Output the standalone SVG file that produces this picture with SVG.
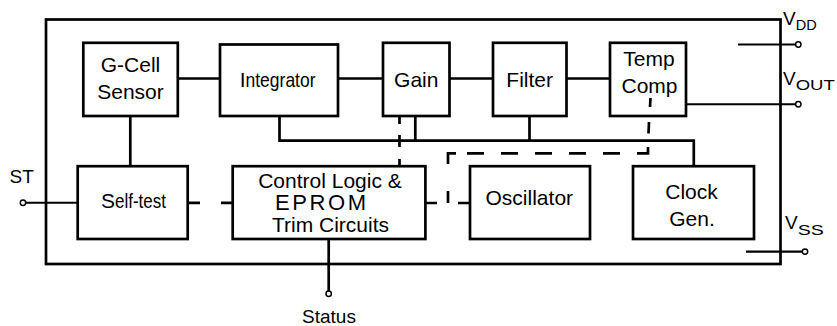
<svg xmlns="http://www.w3.org/2000/svg" width="837" height="326" viewBox="0 0 837 326">
<style>
.box{fill:none;stroke:#000;stroke-width:2.7}
.ln{fill:none;stroke:#000;stroke-width:2.7}
.pin{fill:none;stroke:#000;stroke-width:2.1}
.pad{fill:#fff;stroke:#000;stroke-width:1.5}
text{font-family:"Liberation Sans",Arial,sans-serif;fill:#000}
.t{font-size:21px;text-anchor:middle}
.s{font-size:19px}
</style>
<rect width="837" height="326" fill="#fff"/>
<g id="package"><rect class="box" x="46" y="19.5" width="734.5" height="244.5"/></g>
<g id="connectors">
<path class="ln" d="M178,78.5H220M338,78.5H383M449.5,78.5H493M566.5,78.5H610"/>
<path class="ln" d="M130.3,116V166"/>
<path class="ln" d="M279.5,116V140.7H693.8V166M415.3,116V140.7M529.5,116V140.7"/>
<path class="ln" d="M188,202.8H200M221,202.8H232.5"/>
<path class="ln" d="M399.5,116V124M399.5,135V147M399.5,159V166"/>
<path class="ln" d="M650.5,98L650,107M649,122L648.5,133.5M648,147V153.3H637M620,153.3H603M586,153.3H569M552,153.3H535M518,153.3H501M484,153.3H467M456,153.3H448V164M448,191V203M425.5,203H437M458,203H470"/>
<path class="ln" d="M328.7,239V291"/>
<path class="pin" d="M686,104.2H795.6M738,44.5H795.6M746,251.6H802.3M25.7,202.7H77.5"/>
</g>
<g id="pins">
<circle class="pad" cx="798.3" cy="44.5" r="2.7"/>
<circle class="pad" cx="798.3" cy="104.2" r="2.7"/>
<circle class="pad" cx="805" cy="251.6" r="2.7"/>
<circle class="pad" cx="23" cy="202.7" r="2.7"/>
<circle class="pad" cx="328.7" cy="293.7" r="2.7"/>
<text class="s" x="783" y="25">V<tspan font-size="14" dy="5" textLength="21" lengthAdjust="spacingAndGlyphs">DD</tspan></text>
<text class="s" x="783" y="85">V<tspan font-size="14" dy="5" textLength="39" lengthAdjust="spacingAndGlyphs">OUT</tspan></text>
<text class="s" x="785" y="229.3">V<tspan font-size="14" dy="5.5" textLength="26" lengthAdjust="spacingAndGlyphs">SS</tspan></text>
<text class="s" x="21.7" y="182.7" text-anchor="middle">ST</text>
<text class="s" x="329" y="323" text-anchor="middle">Status</text>
</g>
<g id="gcell"><rect class="box" x="83.3" y="42.8" width="94.5" height="73.2"/><text class="t" x="130.5" y="72">G-Cell</text><text class="t" x="130.5" y="99">Sensor</text></g>
<g id="integrator"><rect class="box" x="220" y="44.5" width="118" height="71.5"/><text x="239.7" y="87.3" font-size="21">I<tspan textLength="70" lengthAdjust="spacingAndGlyphs">ntegrator</tspan></text></g>
<g id="gain"><rect class="box" x="383" y="42.8" width="66.5" height="73.2"/><text class="t" x="416.3" y="87">Gain</text></g>
<g id="filter"><rect class="box" x="493" y="42.8" width="73.5" height="73.2"/><text class="t" x="529.7" y="87">Filter</text></g>
<g id="tempcomp"><rect class="box" x="610" y="42.8" width="76" height="73.2"/><text class="t" x="649" y="66" font-size="20">Temp</text><text class="t" x="649.5" y="93" font-size="20">Comp</text></g>
<g id="selftest"><rect class="box" x="77.7" y="166.2" width="110" height="72.8"/><text x="101" y="207.7" font-size="21">S<tspan textLength="51" lengthAdjust="spacingAndGlyphs">elf-test</tspan></text></g>
<g id="control"><rect class="box" x="232.7" y="166.2" width="192.7" height="72.8"/><text class="t" x="330" y="187.5">Control Logic &amp;</text><text x="275" y="210" font-size="22" textLength="91">EPROM</text><text class="t" x="330.5" y="232">Trim Circuits</text></g>
<g id="oscillator"><rect class="box" x="470" y="166.2" width="120" height="72.8"/><text class="t" x="529.3" y="205">Oscillator</text></g>
<g id="clockgen"><rect class="box" x="633" y="166.2" width="121" height="72.8"/><text class="t" x="691.5" y="199.3">Clock</text><text class="t" x="692" y="226">Gen.</text></g>
</svg>
